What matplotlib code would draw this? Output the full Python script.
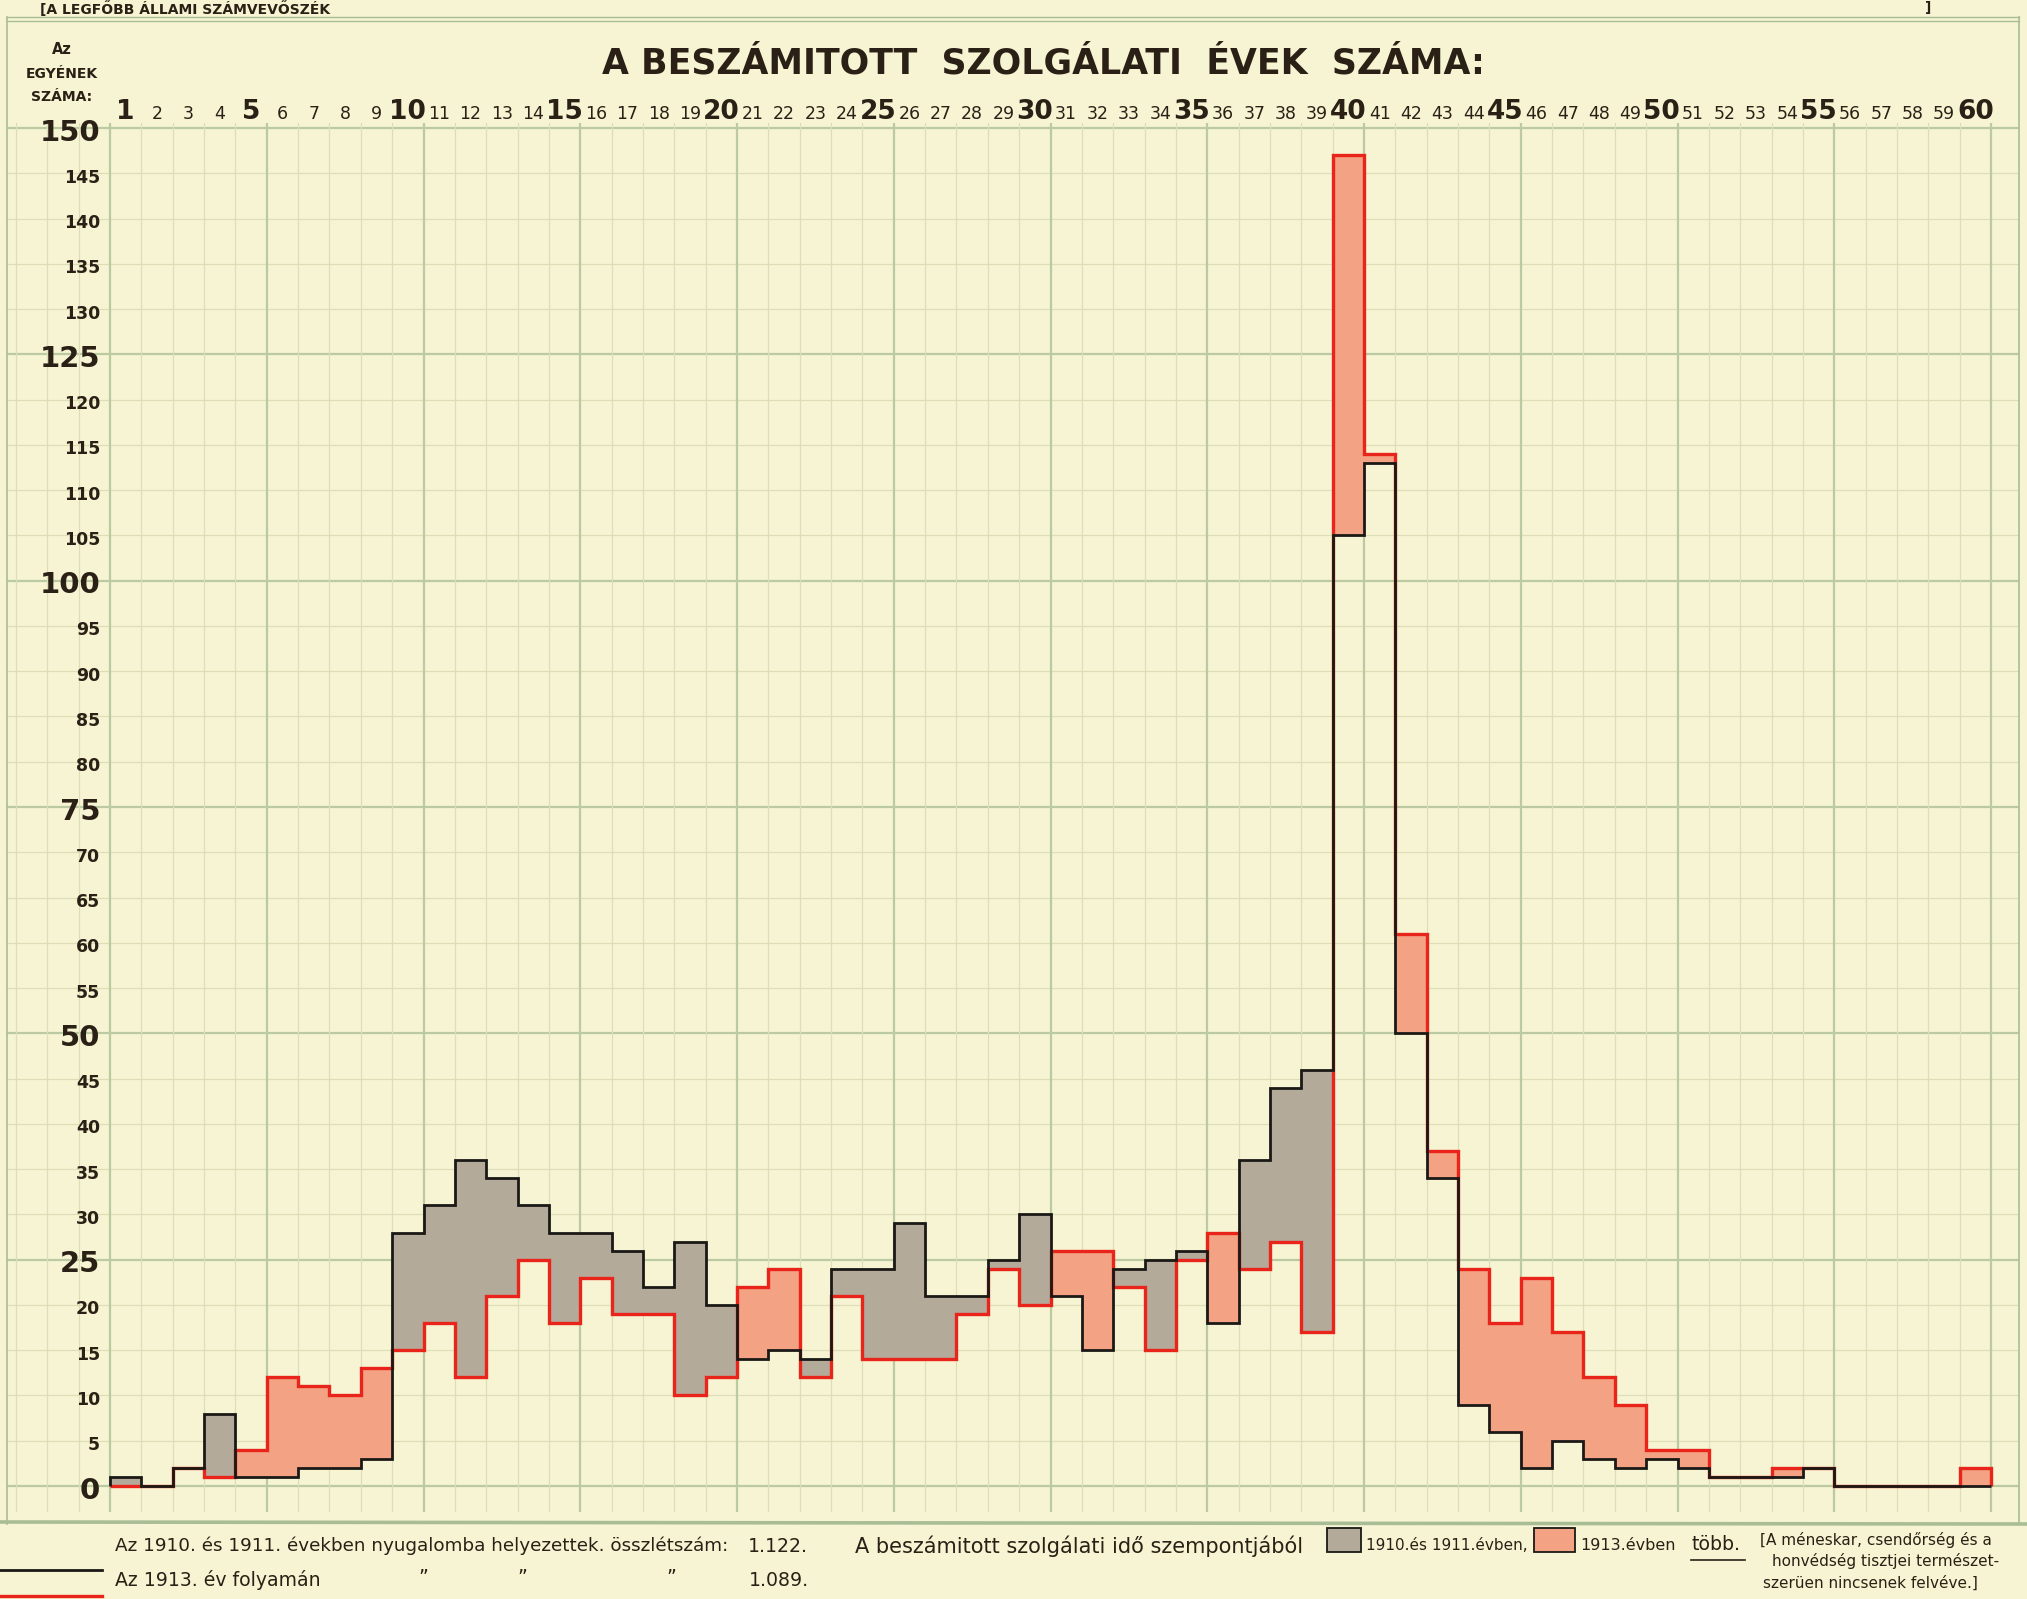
import matplotlib
matplotlib.use("Agg")
import matplotlib.pyplot as plt
import numpy as np
from matplotlib.patches import Rectangle
from matplotlib.lines import Line2D

# ---------------- data ----------------
years = list(range(1, 61))
# number of persons per counted service years
retired_1910_1911 = [1, 0, 2, 8, 1, 1, 2, 2, 3,
                     28, 31, 36, 34, 31, 28, 28, 26, 22, 27,
                     20, 14, 15, 14, 24, 24, 29, 21, 21, 25,
                     30, 21, 15, 24, 25, 26, 18, 36, 44, 46,
                     105, 113, 50, 34, 9, 6, 2, 5, 3, 2,
                     3, 2, 1, 1, 1, 2, 0, 0, 0, 0, 0]
retired_1913 = [0, 0, 2, 1, 4, 12, 11, 10, 13,
                15, 18, 12, 21, 25, 18, 23, 19, 19, 10,
                12, 22, 24, 12, 21, 14, 14, 14, 19, 24,
                20, 26, 26, 22, 15, 25, 28, 24, 27, 17,
                147, 114, 61, 37, 24, 18, 23, 17, 12, 9,
                4, 4, 1, 1, 2, 2, 0, 0, 0, 0, 2]
year_labels = [str(y) for y in years]
bold_years = [1] + list(range(5, 61, 5))
y_ticks = list(range(0, 151, 5))
y_major = [0, 25, 50, 75, 100, 125, 150]

title = "A BESZÁMITOTT  SZOLGÁLATI  ÉVEK  SZÁMA:"
total_1910_1911 = "1.122."
total_1913 = "1.089."

# ---------------- style ----------------
PAPER = "#f7f4d3"
GRID_THIN = "#dcdfb6"
GRID_THICK = "#bccaa2"
FRAME = "#a9bd95"
INK = "#2a2015"
BLACK = "#1b1916"
RED = "#e8241b"
GRAY_FILL = "#b4aa9a"
ORANGE_FILL = "#f3a283"

W, H = 2027, 1599
fig = plt.figure(figsize=(W / 100, H / 100), dpi=100)
fig.patch.set_facecolor(PAPER)


def fx(x):
    return x / W


def fy(y):
    return 1 - y / H


# axes geometry (pixels of the sheet)
ax_left_px, ax_right_px = 7, 2019
ax_top_px, ax_bot_px = 123, 1512
x0_px = 110.0          # left edge of column "1"
col_w = 31.35          # pixels per service year
zero_px = 1486.0       # y pixel of value 0
unit_px = 9.053        # pixels per person

ax = fig.add_axes([fx(ax_left_px), fy(ax_bot_px),
                   (ax_right_px - ax_left_px) / W, (ax_bot_px - ax_top_px) / H])
ax.set_xlim(0.5 - (x0_px - ax_left_px) / col_w, 0.5 + (ax_right_px - x0_px) / col_w)
ax.set_ylim((zero_px - ax_bot_px) / unit_px, (zero_px - ax_top_px) / unit_px)
ax.axis("off")

# grid paper
for v in y_ticks:
    major = v % 25 == 0
    ax.axhline(v, color=GRID_THICK if major else GRID_THIN,
               lw=1.6 if major else 0.9, zorder=0)
for k in range(-3, 63):
    xk = k + 0.5
    if ax.get_xlim()[0] <= xk <= ax.get_xlim()[1]:
        major = k % 5 == 0
        ax.axvline(xk, color=GRID_THICK if major else GRID_THIN,
                   lw=1.6 if major else 0.9, zorder=0)

b = np.array(retired_1910_1911, dtype=float)
r = np.array(retired_1913, dtype=float)
yrs = np.array(years)
edges = np.arange(0.5, 61.5, 1.0)

# difference fills
fill_colors = [GRAY_FILL if bb > rr else ORANGE_FILL for bb, rr in zip(b, r)]
ax.bar(yrs, np.abs(b - r), bottom=np.minimum(b, r), width=1.0,
       color=fill_colors, linewidth=0, zorder=2)

# step outlines
ax.stairs(r, edges, baseline=0, fill=False, color=RED, lw=2.4, zorder=3)
ax.stairs(b, edges, baseline=0, fill=False, color=BLACK, lw=2.0, zorder=4)

# year labels (top row)
y_lab = (zero_px - 119) / unit_px
for yv, lab in zip(years, year_labels):
    if yv in bold_years:
        ax.text(yv, y_lab, lab, ha="center", va="baseline", fontsize=19,
                fontweight="bold", color=INK, clip_on=False, zorder=6)
    else:
        ax.text(yv, y_lab, lab, ha="center", va="baseline", fontsize=12.5,
                color=INK, clip_on=False, zorder=6)

# y labels
x_lab = 0.5 - 10 / col_w
for v in y_ticks:
    if v in y_major:
        ax.text(x_lab, v - 0.5, str(v), ha="right", va="center", fontsize=21,
                fontweight="bold", color=INK, clip_on=False, zorder=6)
    else:
        ax.text(x_lab, v - 0.5, str(v), ha="right", va="center", fontsize=12.5,
                fontweight="bold", color=INK, clip_on=False, zorder=6)

# header texts
fig.text(fx(62), fy(49), "Az", ha="center", va="center", fontsize=10.5,
         fontweight="bold", color=INK)
fig.text(fx(62), fy(74), "EGYÉNEK", ha="center", va="center", fontsize=10,
         fontweight="bold", color=INK)
fig.text(fx(62), fy(97), "SZÁMA:", ha="center", va="center", fontsize=10,
         fontweight="bold", color=INK)
fig.text(fx(1043), fy(64), title, ha="center", va="center", fontsize=25,
         fontweight="bold", color=INK)

# line at the very top of the sheet
fig.text(fx(40), fy(1), "[A LEGFŐBB ÁLLAMI SZÁMVEVŐSZÉK", ha="left", va="top",
         fontsize=10, fontweight="bold", color=INK)
fig.text(fx(1925), fy(1), "]", ha="left", va="top", fontsize=10,
         fontweight="bold", color=INK)

# sheet frame
for yy in (17, 21):
    fig.add_artist(Line2D([fx(7), fx(2019)], [fy(yy), fy(yy)], color=FRAME, lw=1.0))
fig.add_artist(Line2D([fx(7), fx(7)], [fy(17), fy(1524)], color=FRAME, lw=1.2))
fig.add_artist(Line2D([fx(2019), fx(2019)], [fy(17), fy(1524)], color=FRAME, lw=1.2))
fig.add_artist(Line2D([fx(0), fx(2027)], [fy(1522), fy(1524)], color=FRAME, lw=2.6))

# legend area
fs = 13.2
fig.add_artist(Line2D([fx(0), fx(102)], [fy(1570), fy(1570)], color=BLACK, lw=2.0))
fig.add_artist(Line2D([fx(0), fx(102)], [fy(1596), fy(1596)], color=RED, lw=2.4))
fig.text(fx(115), fy(1546), "Az 1910. és 1911. években nyugalomba helyezettek. összlétszám:",
         ha="left", va="center", fontsize=fs, color=INK)
fig.text(fx(748), fy(1546), total_1910_1911, ha="left", va="center", fontsize=13.6, color=INK)
fig.text(fx(115), fy(1580), "Az 1913. év folyamán", ha="left", va="center",
         fontsize=13.6, color=INK)
for xx in (418, 517, 666):
    fig.text(fx(xx), fy(1578), "”", ha="left", va="center", fontsize=13.6, color=INK)
fig.text(fx(749), fy(1580), total_1913, ha="left", va="center", fontsize=13.6, color=INK)

fig.text(fx(855), fy(1546), "A beszámitott szolgálati idő szempontjából",
         ha="left", va="center", fontsize=15, color=INK)
fig.add_artist(Rectangle((fx(1327), fy(1552)), (1361 - 1327) / W, 24 / H,
                         facecolor=GRAY_FILL, edgecolor=BLACK, lw=1.3,
                         transform=fig.transFigure))
fig.text(fx(1366), fy(1546), "1910.és 1911.évben,", ha="left", va="center",
         fontsize=11, color=INK)
fig.add_artist(Rectangle((fx(1534), fy(1552)), (1575 - 1534) / W, 24 / H,
                         facecolor=ORANGE_FILL, edgecolor=BLACK, lw=1.3,
                         transform=fig.transFigure))
fig.text(fx(1580), fy(1546), "1913.évben", ha="left", va="center", fontsize=11.5,
         color=INK)
fig.text(fx(1691), fy(1544), "több.", ha="left", va="center", fontsize=13.6, color=INK)
fig.add_artist(Line2D([fx(1691), fx(1745)], [fy(1560), fy(1560)], color=INK, lw=1.2))

fig.text(fx(1760), fy(1540), "[A méneskar, csendőrség és a", ha="left", va="center",
         fontsize=11, color=INK)
fig.text(fx(1772), fy(1561), "honvédség tisztjei természet-", ha="left", va="center",
         fontsize=11, color=INK)
fig.text(fx(1763), fy(1583), "szerüen nincsenek felvéve.]", ha="left", va="center",
         fontsize=11, color=INK)

fig.savefig("out.png", dpi=100, facecolor=PAPER)
